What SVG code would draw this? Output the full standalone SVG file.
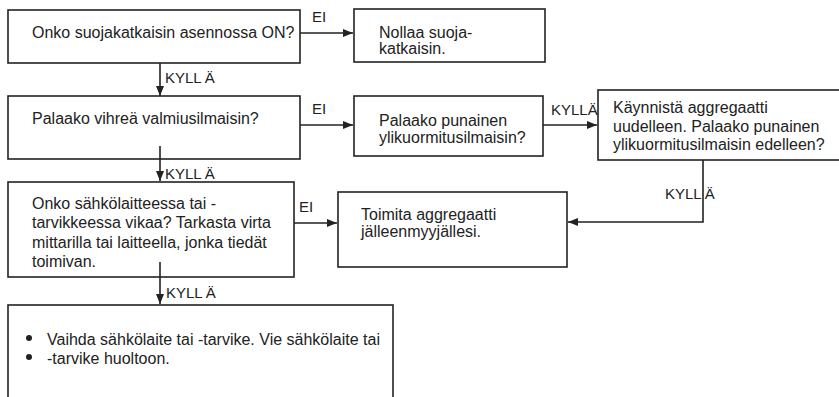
<svg xmlns="http://www.w3.org/2000/svg" width="839" height="397" viewBox="0 0 839 397">
<style>
.box{fill:#fff;stroke:#222;stroke-width:1.6}
.t{font-family:"Liberation Sans",Arial,sans-serif;font-size:16px;fill:#222}
.lbl{font-family:"Liberation Sans",Arial,sans-serif;font-size:15px;fill:#222}
.c{fill:none;stroke:#222;stroke-width:1.6}
</style>
<defs>
<marker id="ah" viewBox="0 0 10 8" refX="10" refY="4" markerWidth="10" markerHeight="8" markerUnits="userSpaceOnUse" orient="auto">
<path d="M0,0 L10,4 L0,8 Z" fill="#222"/>
</marker>
</defs>
<rect width="839" height="397" fill="#fff"/>
<g id="n1"><rect class="box" x="8" y="10" width="292" height="53"/><text class="t" x="32" y="38">Onko suojakatkaisin asennossa ON?</text></g>
<g id="n2"><rect class="box" x="354" y="9" width="191" height="53"/><text class="t" x="379" y="38">Nollaa suoja-</text><text class="t" x="379" y="54">katkaisin.</text></g>
<g id="n3"><rect class="box" x="8" y="96" width="292" height="63"/><text class="t" x="32" y="124">Palaako vihreä valmiusilmaisin?</text></g>
<g id="n4"><rect class="box" x="354" y="96" width="189" height="60"/><text class="t" x="379" y="126">Palaako punainen</text><text class="t" x="379" y="143">ylikuormitusilmaisin?</text></g>
<g id="n5"><rect class="box" x="598" y="90" width="250" height="70"/><text class="t" x="613" y="113">Käynnistä aggregaatti</text><text class="t" x="613" y="132">uudelleen. Palaako punainen</text><text class="t" x="613" y="150">ylikuormitusilmaisin edelleen?</text></g>
<g id="n6"><rect class="box" x="338" y="192" width="229" height="75"/><text class="t" x="361" y="220">Toimita aggregaatti</text><text class="t" x="361" y="237">jälleenmyyjällesi.</text></g>
<g id="n7"><rect class="box" x="8" y="182" width="286" height="95"/><text class="t" x="32" y="209">Onko sähkölaitteessa tai -</text><text class="t" x="32" y="228">tarvikkeessa vikaa? Tarkasta virta</text><text class="t" x="32" y="248">mittarilla tai laitteella, jonka tiedät</text><text class="t" x="32" y="267">toimivan.</text></g>
<g id="n8"><rect class="box" x="8" y="305" width="385" height="100"/><circle cx="29" cy="338" r="3" fill="#222"/><circle cx="29" cy="357" r="3" fill="#222"/><text class="t" x="47" y="345">Vaihda sähkölaite tai -tarvike. Vie sähkölaite tai</text><text class="t" x="47" y="364">-tarvike huoltoon.</text></g>
<g id="connectors">
<path class="c" d="M300,33 H353" marker-end="url(#ah)"/>
<path class="c" d="M160,63 V96" marker-end="url(#ah)"/>
<path class="c" d="M300,125 H353" marker-end="url(#ah)"/>
<path class="c" d="M543,125 H597" marker-end="url(#ah)"/>
<path class="c" d="M160,146 V181" marker-end="url(#ah)"/>
<path class="c" d="M703,160 V222 H568" marker-end="url(#ah)"/>
<path class="c" d="M294,223 H337" marker-end="url(#ah)"/>
<path class="c" d="M160,262 V304" marker-end="url(#ah)"/>
<text class="lbl" x="312" y="22">EI</text>
<text class="lbl" x="165" y="83">KYLL<tspan dx="3">Ä</tspan></text>
<text class="lbl" x="312" y="114">EI</text>
<text class="lbl" x="551" y="115">KYLLÄ</text>
<text class="lbl" x="165" y="179">KYLL<tspan dx="3">Ä</tspan></text>
<text class="lbl" x="665" y="199">KYLL<tspan dx="3">Ä</tspan></text>
<text class="lbl" x="299" y="212">EI</text>
<text class="lbl" x="166" y="298">KYLL<tspan dx="3">Ä</tspan></text>
</g>
</svg>
